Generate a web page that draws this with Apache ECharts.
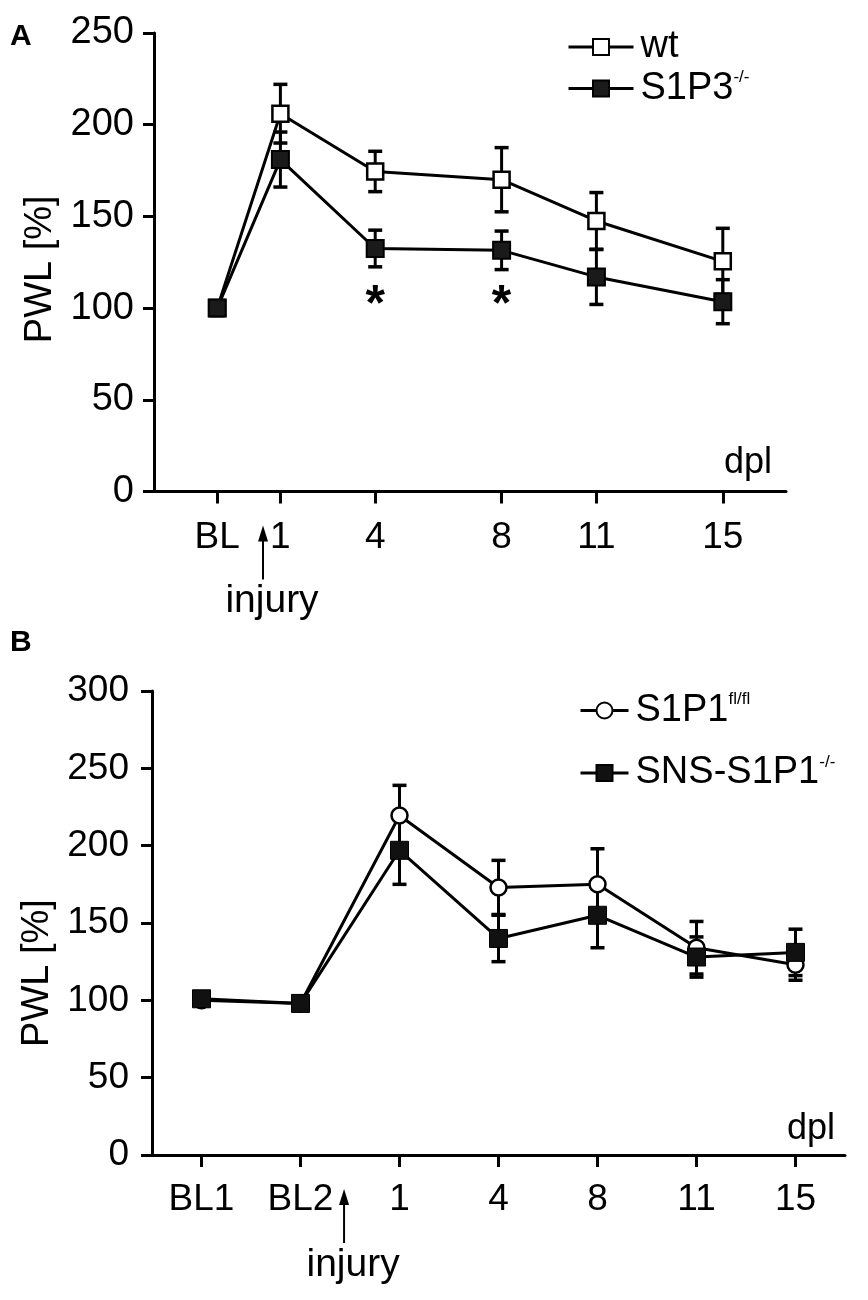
<!DOCTYPE html>
<html>
<head>
<meta charset="utf-8">
<script src="https://cdn.jsdelivr.net/npm/echarts@6/dist/echarts.min.js"></script>
<style>
html, body { margin: 0; padding: 0; background: #fff; }
#main { width: 868px; height: 1300px; }
</style>
</head>
<body>
<div id="main"></div>
<script>
// panel A: days post lesion, BL plotted at day -1
var daysA = [-1, 1, 4, 8, 11, 15];
var labelsA = ['BL', '1', '4', '8', '11', '15'];
var wtMean = [100, 206, 174.5, 170, 147.5, 125.5];
var wtErr = [4, 16, 11, 17.5, 15.5, 18];
var koMean = [100, 181, 132.5, 131.5, 117, 103.5];
var koErr = [4, 15, 10, 10.5, 15, 12];
var starDays = [4, 8];
var starLevel = [101, 101];

// panel B: evenly spaced categories
var catsB = ['BL1', 'BL2', '1', '4', '8', '11', '15'];
var flMean = [100, 98, 219.5, 173, 175, 134, 123];
var flErr = [3, 2, 19.5, 17.5, 23, 17, 10];
var snsMean = [101, 98, 197, 140, 155, 128, 131];
var snsErr = [3, 2, 22, 15, 21, 13, 15];

var font = 'Liberation Sans, Arial, Helvetica, sans-serif';
var black = '#000';

var myChart = echarts.init(document.getElementById('main'));

function pts(xs, ys) {
    return ys.map(function (v, i) { return [xs[i], v]; });
}
function errs(xs, ys, es) {
    return ys.map(function (v, i) { return [xs[i], v - es[i], v + es[i]]; });
}
function errBar(params, api) {
    var x = api.value(0);
    var lo = api.coord([x, api.value(1)]);
    var hi = api.coord([x, api.value(2)]);
    var w = 7;
    var st = { stroke: black, lineWidth: 3 };
    var cap = { stroke: black, lineWidth: 3.5 };
    return {
        type: 'group',
        children: [
            { type: 'line', shape: { x1: lo[0], y1: lo[1], x2: hi[0], y2: hi[1] }, style: st },
            { type: 'line', shape: { x1: hi[0] - w, y1: hi[1], x2: hi[0] + w, y2: hi[1] }, style: cap },
            { type: 'line', shape: { x1: lo[0] - w, y1: lo[1], x2: lo[0] + w, y2: lo[1] }, style: cap }
        ]
    };
}
function supFormatter(name) {
    var m = name.match(/^(.*?)\^(.*)$/);
    return m ? m[1] + '{sup|' + m[2] + '}' : name;
}

var idxB = catsB.map(function (c, i) { return i; });

var axisLine = { show: true, onZero: false, lineStyle: { color: black, width: 3 } };
var axisTick = { show: true, length: 11, lineStyle: { color: black, width: 3 } };
var legendText = {
    fontSize: 38, color: black, fontFamily: font, padding: [0, 0, 0, 2],
    rich: { sup: { fontSize: 17, fontFamily: font, color: black, verticalAlign: 'top', padding: [0, 0, 22, 0] } }
};

var option = {
    animation: false,
    textStyle: { fontFamily: font },
    grid: [
        { left: 154, top: 33, width: 632, height: 458.5 },
        { left: 152, top: 691, width: 693, height: 464 }
    ],
    legend: [
        {
            data: ['wt', 'S1P3^-/-'], left: 562, top: 23, orient: 'vertical',
            itemWidth: 65, itemHeight: 20, itemGap: 3,
            lineStyle: { color: black, width: 3 },
            textStyle: legendText, formatter: supFormatter
        },
        {
            data: ['S1P1^fl/fl', 'SNS-S1P1^-/-'], left: 574, top: 686, orient: 'vertical',
            itemWidth: 48, itemHeight: 20, itemGap: 24,
            lineStyle: { color: black, width: 3 },
            textStyle: legendText, formatter: supFormatter
        }
    ],
    xAxis: [
        {
            type: 'value', gridIndex: 0, min: -3, max: 17,
            splitLine: { show: false },
            axisLine: axisLine,
            axisTick: { show: true, length: 12, lineStyle: { color: black, width: 3 }, customValues: daysA },
            axisLabel: {
                customValues: daysA, fontSize: 37, color: black, margin: 28,
                formatter: function (v) { return labelsA[daysA.indexOf(v)]; }
            },
            name: 'dpl', nameLocation: 'end', nameGap: -14,
            nameTextStyle: { fontSize: 36, color: black, align: 'right', verticalAlign: 'bottom', padding: [0, 0, 10, 0] }
        },
        {
            type: 'category', gridIndex: 1, data: catsB, boundaryGap: true,
            axisLine: axisLine,
            axisTick: { show: true, alignWithLabel: true, length: 12, lineStyle: { color: black, width: 3 } },
            axisLabel: { fontSize: 37, color: black, margin: 26 },
            name: 'dpl', nameLocation: 'end', nameGap: -10,
            nameTextStyle: { fontSize: 36, color: black, align: 'right', verticalAlign: 'bottom', padding: [0, 0, 8, 0] }
        }
    ],
    yAxis: [
        {
            type: 'value', gridIndex: 0, min: 0, max: 250, interval: 50,
            splitLine: { show: false }, axisLine: axisLine, axisTick: axisTick,
            axisLabel: { fontSize: 38, color: black, margin: 20 },
            name: 'PWL [%]', nameLocation: 'middle', nameGap: 88,
            nameTextStyle: { fontSize: 38, color: black, padding: [0, 14, 0, 0] }
        },
        {
            type: 'value', gridIndex: 1, min: 0, max: 300, interval: 50,
            splitLine: { show: false }, axisLine: axisLine, axisTick: axisTick,
            axisLabel: { fontSize: 37, color: black, margin: 23 },
            name: 'PWL [%]', nameLocation: 'middle', nameGap: 90,
            nameTextStyle: { fontSize: 38, color: black, padding: [0, 100, 0, 0] }
        }
    ],
    series: [
        {
            type: 'custom', xAxisIndex: 0, yAxisIndex: 0, z: 1, silent: true,
            renderItem: errBar, encode: { x: 0, y: [1, 2] }, data: errs(daysA, wtMean, wtErr)
        },
        {
            type: 'custom', xAxisIndex: 0, yAxisIndex: 0, z: 1, silent: true,
            renderItem: errBar, encode: { x: 0, y: [1, 2] }, data: errs(daysA, koMean, koErr)
        },
        {
            name: 'wt', type: 'line', xAxisIndex: 0, yAxisIndex: 0, z: 3,
            symbol: 'rect', symbolSize: 16, showAllSymbol: true,
            itemStyle: { color: '#fff', borderColor: black, borderWidth: 2.5 },
            lineStyle: { color: black, width: 3 },
            data: pts(daysA, wtMean)
        },
        {
            name: 'S1P3^-/-', type: 'line', xAxisIndex: 0, yAxisIndex: 0, z: 4,
            symbol: 'rect', symbolSize: 17, showAllSymbol: true,
            itemStyle: { color: '#1a1a1a', borderColor: black, borderWidth: 2 },
            lineStyle: { color: black, width: 3 },
            data: pts(daysA, koMean)
        },
        {
            type: 'scatter', xAxisIndex: 0, yAxisIndex: 0, z: 5, silent: true,
            symbolSize: 1, itemStyle: { color: 'rgba(0,0,0,0)', opacity: 1 },
            label: {
                show: true, position: 'inside', formatter: '*', fontSize: 50, fontWeight: 'bold',
                color: black, opacity: 1, textBorderWidth: 0
            },
            data: pts(starDays, starLevel)
        },
        {
            type: 'custom', xAxisIndex: 1, yAxisIndex: 1, z: 1, silent: true,
            renderItem: errBar, encode: { x: 0, y: [1, 2] }, data: errs(idxB, flMean, flErr)
        },
        {
            type: 'custom', xAxisIndex: 1, yAxisIndex: 1, z: 1, silent: true,
            renderItem: errBar, encode: { x: 0, y: [1, 2] }, data: errs(idxB, snsMean, snsErr)
        },
        {
            name: 'S1P1^fl/fl', type: 'line', xAxisIndex: 1, yAxisIndex: 1, z: 3,
            symbol: 'circle', symbolSize: 16, showAllSymbol: true,
            itemStyle: { color: '#fff', borderColor: black, borderWidth: 2.5 },
            lineStyle: { color: black, width: 3 },
            data: pts(idxB, flMean)
        },
        {
            name: 'SNS-S1P1^-/-', type: 'line', xAxisIndex: 1, yAxisIndex: 1, z: 4,
            symbol: 'rect', symbolSize: 18, showAllSymbol: true,
            itemStyle: { color: '#111', borderColor: black, borderWidth: 1 },
            lineStyle: { color: black, width: 3 },
            data: pts(idxB, snsMean)
        }
    ]
};
myChart.setOption(option);

// panel letters and "injury" arrows
function pix(gridIdx, xVal) {
    return myChart.convertToPixel({ xAxisIndex: gridIdx, yAxisIndex: gridIdx }, [xVal, 0]);
}
function injury(x, y) {
    return [
        { type: 'line', shape: { x1: x, y1: y + 44, x2: x, y2: y + 88 }, style: { stroke: black, lineWidth: 2 } },
        { type: 'polygon', shape: { points: [[x, y + 34], [x - 5, y + 50], [x + 5, y + 50]] }, style: { fill: black } },
        {
            type: 'text', x: x + 9, y: y + 110,
            style: { text: 'injury', font: '39px ' + font, fill: black, align: 'center', verticalAlign: 'middle' }
        }
    ];
}
var pA = pix(0, 0.45);
var b1 = pix(1, 1), b2 = pix(1, 2);
var g = [
    { type: 'text', left: 10, top: 22, style: { text: 'A', font: 'bold 30px ' + font, fill: black } },
    { type: 'text', left: 10, top: 628, style: { text: 'B', font: 'bold 30px ' + font, fill: black } }
].concat(injury(pA[0], pA[1])).concat(injury(b1[0] + 0.44 * (b2[0] - b1[0]), b1[1]));
myChart.setOption({ graphic: g });
</script>
</body>
</html>
